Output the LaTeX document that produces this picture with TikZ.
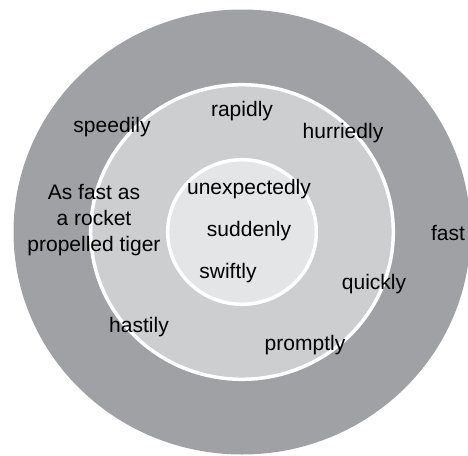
\documentclass[tikz,border=0pt]{standalone}
\usepackage{fontspec}
\setmainfont{Liberation Sans}
\definecolor{ringouter}{HTML}{A0A1A4}
\definecolor{ringmiddle}{HTML}{CDCED0}
\definecolor{ringinner}{HTML}{E4E5E6}
\tikzset{
  word/.style={font=\fontsize{21}{26}\selectfont, text=black, inner sep=0pt, align=center},
  band/.style={line width=3.5pt, draw=white}
}
\begin{document}
\begin{tikzpicture}[x=1pt, y=-1pt]
  \useasboundingbox (0,0) rectangle (468,455);
  % three concentric bands
  \fill[ringouter] (242,232) ellipse [x radius=228.5, y radius=222.5];
  \filldraw[band, fill=ringmiddle] (242,232) ellipse [x radius=151.3, y radius=147.3];
  \filldraw[band, fill=ringinner] (242,232) ellipse [x radius=74.3, y radius=72.3];

  % inner band
  \node[word] (unexpectedly) at (249,189) {unexpectedly};
  \node[word] (suddenly) at (249,231) {suddenly};
  \node[word] (swiftly) at (228,273) {swiftly};

  % middle band
  \node[word] (rapidly) at (242,111) {rapidly};
  \node[word] (speedily) at (112,127) {speedily};
  \node[word] (hurriedly) at (343,133) {hurriedly};
  \node[word] (tiger) at (94,220) {As fast as\\a rocket\\propelled tiger};
  \node[word] (quickly) at (374,284) {quickly};
  \node[word] (hastily) at (139,327) {hastily};
  \node[word] (promptly) at (305,345) {promptly};

  % outer band
  \node[word] (fast) at (448,233) {fast};
\end{tikzpicture}
\end{document}
